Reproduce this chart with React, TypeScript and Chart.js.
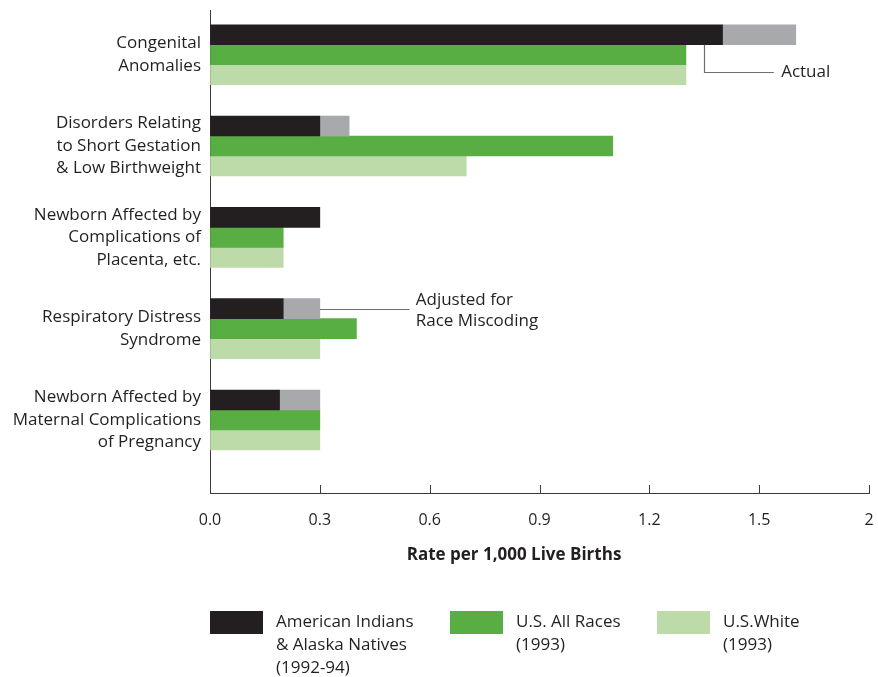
import React, { useEffect, useRef } from "react";
import { Chart, registerables } from "chart.js";

Chart.register(...registerables);

const categories: string[][] = [
  ["Congenital", "Anomalies"],
  ["Disorders Relating", "to Short Gestation", "& Low Birthweight"],
  ["Newborn Affected by", "Complications of", "Placenta, etc."],
  ["Respiratory Distress", "Syndrome"],
  ["Newborn Affected by", "Maternal Complications", "of Pregnancy"],
];
const aianActual = [1.4, 0.3, 0.3, 0.2, 0.19];
const aianAdjusted: (number | null)[] = [1.6, 0.38, null, 0.3, 0.3];
const usAllRaces = [1.3, 1.1, 0.2, 0.4, 0.3];
const usWhite = [1.3, 0.7, 0.2, 0.3, 0.3];

const xTickValues = [0, 0.3, 0.6, 0.9, 1.2, 1.5, 1.8];
const xTickLabels = ["0.0", "0.3", "0.6", "0.9", "1.2", "1.5", "2"];
const xTitle = "Rate per 1,000 Live Births";

const legendLabels: string[][] = [
  ["American Indians", "& Alaska Natives", "(1992-94)"],
  ["U.S. All Races", "(1993)"],
  ["U.S.White", "(1993)"],
];

const COLOR_AIAN = "#231f20";
const COLOR_ADJ = "#a7a9ac";
const COLOR_ALL = "#58ae42";
const COLOR_WHITE = "#bddaa9";
const TEXT = "#231f20";
const AXIS = "#3a3a3a";
const FONT = "'Open Sans', 'DejaVu Sans', sans-serif";

export default function App() {
  const ref = useRef<HTMLCanvasElement | null>(null);

  useEffect(() => {
    document.body.style.margin = "0";
    const canvas = ref.current;
    if (!canvas) return;

    const toPts = (arr: (number | null)[]) => arr.map((v, i) => ({ x: v, y: i }));
    const adjExtra = aianAdjusted.map((v, i) => (v == null ? null : v - aianActual[i]));

    const decor = {
      id: "decor",
      afterDraw(chart: any) {
        const { ctx, chartArea } = chart;
        const xs = chart.scales.x;
        const ys = chart.scales.y;
        ctx.save();
        // upward tick marks
        ctx.strokeStyle = AXIS;
        ctx.lineWidth = 1;
        xTickValues.forEach((v) => {
          const px = Math.round(xs.getPixelForValue(v)) + 0.5;
          ctx.beginPath();
          ctx.moveTo(px, chartArea.bottom);
          ctx.lineTo(px, chartArea.bottom - 8);
          ctx.stroke();
        });
        // axis title
        ctx.fillStyle = TEXT;
        ctx.textBaseline = "middle";
        ctx.textAlign = "center";
        ctx.font = `bold 17px ${FONT}`;
        ctx.fillText(xTitle, 514, chartArea.bottom + 62);

        // annotations
        ctx.strokeStyle = "#6d6e71";
        ctx.lineWidth = 1.2;
        const ax = Math.round(xs.getPixelForValue(1.35)) + 0.5;
        const ay0 = ys.getPixelForValue(0) - 10;
        const ay1 = Math.round(ys.getPixelForValue(0) + 17) + 0.5;
        ctx.beginPath();
        ctx.moveTo(ax, ay0);
        ctx.lineTo(ax, ay1);
        ctx.lineTo(xs.getPixelForValue(1.54), ay1);
        ctx.stroke();
        ctx.font = `17px ${FONT}`;
        ctx.textAlign = "left";
        ctx.fillText("Actual", xs.getPixelForValue(1.56), ay1);

        const bx0 = xs.getPixelForValue(aianAdjusted[3] as number);
        const by = Math.round(ys.getPixelForValue(3) - 20) + 0.5;
        ctx.beginPath();
        ctx.moveTo(bx0, by);
        ctx.lineTo(xs.getPixelForValue(0.545), by);
        ctx.stroke();
        const tx = xs.getPixelForValue(0.562);
        ctx.fillText("Adjusted for", tx, by - 9);
        ctx.fillText("Race Miscoding", tx, by + 12);

        // legend
        const colors = [COLOR_AIAN, COLOR_ALL, COLOR_WHITE];
        const boxX = [210, 450, 657];
        const top = 611;
        colors.forEach((c, i) => {
          ctx.fillStyle = c;
          ctx.fillRect(boxX[i], top, 53, 23);
          ctx.fillStyle = TEXT;
          legendLabels[i].forEach((line, j) => {
            ctx.fillText(line, boxX[i] + 66, top + 11 + j * 23);
          });
        });
        ctx.restore();
      },
    };

    const chart = new Chart(canvas, {
      type: "bar",
      data: {
        datasets: [
          { label: "American Indians & Alaska Natives (1992-94)", data: toPts(aianActual) as any, backgroundColor: COLOR_AIAN, stack: "aian", barThickness: 20 },
          { label: "Adjusted for Race Miscoding", data: toPts(adjExtra) as any, backgroundColor: COLOR_ADJ, stack: "aian", barThickness: 20 },
          { label: "U.S. All Races (1993)", data: toPts(usAllRaces) as any, backgroundColor: COLOR_ALL, stack: "all", barThickness: 20 },
          { label: "U.S. White (1993)", data: toPts(usWhite) as any, backgroundColor: COLOR_WHITE, stack: "white", barThickness: 20 },
        ],
      },
      options: {
        indexAxis: "y",
        responsive: false,
        animation: false,
        layout: { padding: { top: 10, right: 9, left: 0, bottom: 134 } },
        plugins: { legend: { display: false }, tooltip: { enabled: false } },
        scales: {
          x: {
            type: "linear",
            stacked: true,
            min: 0,
            max: 1.8,
            afterBuildTicks: (axis: any) => {
              axis.ticks = xTickValues.map((v) => ({ value: v }));
            },
            afterFit: (axis: any) => {
              axis.height = 50;
              axis.paddingLeft = 0;
              axis.paddingRight = 0;
            },
            ticks: {
              autoSkip: false,
              maxRotation: 0,
              padding: 18,
              color: TEXT,
              font: { family: FONT, size: 16 },
              callback: (_v: any, i: number) => xTickLabels[i],
            },
            grid: { display: true, drawOnChartArea: false, drawTicks: false },
            border: { display: true, color: AXIS, width: 1 },
          },
          y: {
            type: "linear",
            reverse: true,
            offset: false,
            min: -0.49,
            max: 4.8,
            afterBuildTicks: (axis: any) => {
              axis.ticks = categories.map((_c, i) => ({ value: i }));
            },
            afterFit: (axis: any) => {
              axis.width = 210;
              axis.paddingTop = 0;
              axis.paddingBottom = 0;
            },
            ticks: {
              autoSkip: false,
              padding: 9,
              color: TEXT,
              font: { family: FONT, size: 17, lineHeight: 1.32 },
              callback: (v: any) => categories[Math.round(Number(v))] as any,
            },
            grid: { display: false, drawTicks: false, offset: false },
            border: { display: true, color: AXIS, width: 1 },
          },
        },
      },
      plugins: [decor],
    } as any);

    return () => chart.destroy();
  }, []);

  return (
    <div style={{ width: 878, height: 677 }}>
      <canvas ref={ref} width={878} height={677} />
    </div>
  );
}
